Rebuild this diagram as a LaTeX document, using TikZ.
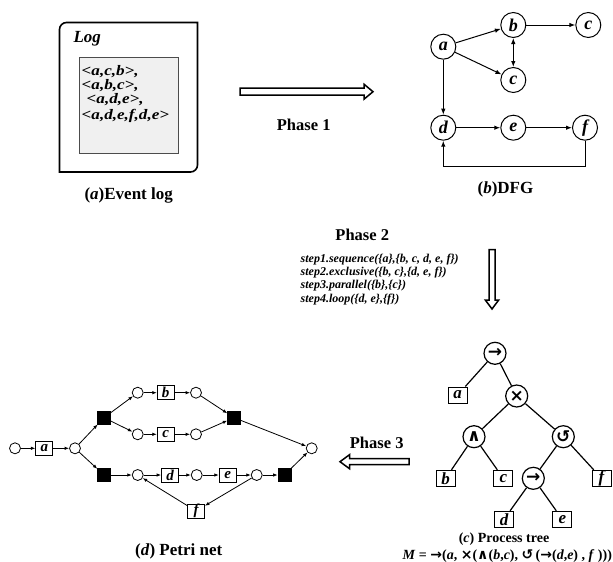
\documentclass[tikz,border=0pt]{standalone}
\usepackage{fontspec}
\usepackage{graphicx}
\setmainfont{Liberation Serif}
\newfontfamily\symb{DejaVu Sans}
\usetikzlibrary{arrows.meta}
\begin{document}
\begin{tikzpicture}[x=1pt,y=-1pt,
  bi/.style={font=\fontsize{#1}{#1}\selectfont\bfseries\itshape},
  bu/.style={font=\fontsize{#1}{#1}\selectfont\bfseries},
  dfgnode/.style={circle,draw,line width=1pt,minimum size=25pt,inner sep=0pt,bi=18},
  arr/.style={-{Latex[length=6pt,width=4.5pt]},line width=1pt},
  treeop/.style={circle,draw,line width=1.2pt,minimum size=22pt,inner sep=0pt,font=\fontsize{17}{17}\selectfont\symb\bfseries},
  leaf/.style={draw,line width=1pt,minimum width=19pt,minimum height=16pt,inner sep=0pt,bi=17},
  tedge/.style={line width=1.2pt},
  place/.style={circle,draw,line width=0.8pt,minimum size=11pt,inner sep=0pt},
  trans/.style={draw,line width=0.8pt,minimum width=17pt,minimum height=14pt,inner sep=0pt,bi=15},
  blackt/.style={fill=black,draw=black,minimum size=13pt,inner sep=0pt},
  parr/.style={-{Latex[length=4.5pt,width=3.5pt]},line width=0.8pt},
  bigarrow/.style={draw,fill=white,line width=1.5pt,line join=miter},
  logline/.style={bi=14.5,anchor=west,inner sep=0pt}
]
\useasboundingbox (0,0) rectangle (613,562);

% ---------- (a) Event log ----------
\draw[line width=1.6pt] (66,22.5) -- (197.5,22.5) -- (197.5,165) arc[start angle=0,end angle=90,radius=7] -- (59.5,172) -- (59.5,29.5) arc[start angle=180,end angle=270,radius=7] -- cycle;
\node[bi=17,anchor=west] (logt) at (70,38.5) {Log};
\node[draw=black!70,fill=black!6,line width=0.6pt,minimum width=99pt,minimum height=96pt,inner sep=0pt] (logbox) at (128.8,105.3) {};
\node[logline] (l1) at (81.5,71.5) {\scalebox{1.18}[1]{<a,c,b>,}};
\node[logline] (l2) at (81.5,85.5) {\scalebox{1.18}[1]{<a,b,c>,}};
\node[logline] (l3) at (86.5,99.7) {\scalebox{1.18}[1]{<a,d,e>,}};
\node[logline] (l4) at (81.5,116) {\scalebox{1.18}[1]{<a,d,e,f,d,e>}};
\node[bu=17] (capa) at (128.7,195.7) {(\textit{a})Event log};

% ---------- Phase 1 ----------
\draw[bigarrow] (240,88.2) -- (364,88.2) -- (364,84.2) -- (373,91.7) -- (364,99.2) -- (364,95.2) -- (240,95.2) -- cycle;
\node[bu=16.5] (ph1) at (303.7,125) {Phase 1};

% ---------- (b) DFG ----------
\node[dfgnode] (a) at (443.3,46.7) {a};
\node[dfgnode] (b) at (513.3,25) {b};
\node[dfgnode] (c1) at (588.3,25) {c};
\node[dfgnode] (c2) at (513.3,80) {c};
\node[dfgnode] (d) at (443.3,127.7) {d};
\node[dfgnode] (e) at (513.3,127.7) {e};
\node[dfgnode] (f) at (585,127.7) {f};
\draw[arr] (a) -- (b);
\draw[arr] (a) -- (c2);
\draw[arr] (b) -- (c1);
\draw[{Latex[length=6pt,width=4.5pt]}-{Latex[length=6pt,width=4.5pt]},line width=1pt] (b) -- (c2);
\draw[arr] (a) -- (d);
\draw[arr] (d) -- (e);
\draw[arr] (e) -- (f);
\coordinate (loopc) at (585,166);
\draw[arr] (f.south) -- (loopc) -| (d.south);
\node[bu=17] (capb) at (505.5,189) {(\textit{b})DFG};

% ---------- Phase 2 ----------
\node[bu=16.5] (ph2) at (362.3,235) {Phase 2};
\node[bi=12,anchor=west,inner sep=0pt] (s1) at (300.5,259.3) {step1.sequence(\{a\},\{b, c, d, e, f\})};
\node[bi=12,anchor=west,inner sep=0pt] (s2) at (300.5,272.6) {step2.exclusive(\{b, c\},\{d, e, f\})};
\node[bi=12,anchor=west,inner sep=0pt] (s3) at (300.5,285.9) {step3.parallel(\{b\},\{c\})};
\node[bi=12,anchor=west,inner sep=0pt] (s4) at (300.5,299.2) {step4.loop(\{d, e\},\{f\})};
\draw[bigarrow] (489,249.5) -- (495,249.5) -- (495,300) -- (498.7,300) -- (492,309) -- (485.3,300) -- (489,300) -- cycle;

% ---------- (c) Process tree ----------
\node[treeop] (r) at (495,353.3) {→};
\node[leaf] (ta) at (457.7,395) {a};
\node[treeop] (x) at (516.7,396) {×};
\node[treeop] (and) at (474,436.7) {∧};
\node[treeop] (lp) at (563.3,436.7) {↺};
\node[leaf] (tb) at (445.7,478.3) {b};
\node[leaf] (tc) at (503.3,478.3) {c};
\node[treeop] (sq) at (533.3,478.3) {→};
\node[leaf] (tf) at (601.5,478.3) {f};
\node[leaf] (td) at (504,519.3) {d};
\node[leaf] (te) at (562.3,519.3) {e};
\draw[tedge] (r) -- (ta);
\draw[tedge] (r) -- (x);
\draw[tedge] (x) -- (and);
\draw[tedge] (x) -- (lp);
\draw[tedge] (and) -- (tb);
\draw[tedge] (and) -- (tc);
\draw[tedge] (lp) -- (sq);
\draw[tedge] (lp) -- (tf);
\draw[tedge] (sq) -- (td);
\draw[tedge] (sq) -- (te);
\node[bu=14] (capc) at (504,539) {(\textit{c}) Process tree};
\node[bu=14] (formula) at (507.3,556) {\textit{M} = {\symb →}(\textit{a}, {\symb ×}({\symb ∧}(\textit{b},\textit{c}), {\symb ↺}\,({\symb →}(\textit{d},\textit{e}) , \textit{f} )))};

% ---------- Phase 3 ----------
\node[bu=16.5] (ph3) at (376.7,442.7) {Phase 3};
\draw[bigarrow] (409,458.7) -- (349.5,458.7) -- (349.5,454.7) -- (340,461.7) -- (349.5,468.7) -- (349.5,464.7) -- (409,464.7) -- cycle;

% ---------- (d) Petri net ----------
\node[place] (p0) at (15,448.3) {};
\node[trans] (pa) at (44.3,448.3) {a};
\node[place] (p1) at (75,448.3) {};
\node[blackt] (t1) at (104,417.7) {};
\node[blackt] (t2) at (104,475) {};
\node[place] (pbi) at (137.7,392.7) {};
\node[trans] (pb) at (165.7,392.7) {b};
\node[place] (pbo) at (196,392.7) {};
\node[place] (pci) at (137.7,434.3) {};
\node[trans] (pc) at (165.7,434.3) {c};
\node[place] (pco) at (196,434.3) {};
\node[blackt] (t3) at (234,417.7) {};
\node[place] (pend) at (311.7,448.3) {};
\node[place] (pdi) at (137.7,475) {};
\node[trans] (pd) at (170,475) {d};
\node[place] (pdo) at (196.7,475) {};
\node[trans] (pe) at (227.7,475) {e};
\node[place] (peo) at (256.7,475) {};
\node[blackt] (t4) at (284.3,475) {};
\node[trans] (pf) at (196,511) {f};
\draw[parr] (p0) -- (pa);
\draw[parr] (pa) -- (p1);
\draw[parr] (p1) -- (t1);
\draw[parr] (p1) -- (t2);
\draw[parr] (t1) -- (pbi);
\draw[parr] (t1) -- (pci);
\draw[parr] (pbi) -- (pb);
\draw[parr] (pb) -- (pbo);
\draw[parr] (pbo) -- (t3);
\draw[parr] (pci) -- (pc);
\draw[parr] (pc) -- (pco);
\draw[parr] (pco) -- (t3);
\draw[parr] (t3) -- (pend);
\draw[parr] (t2) -- (pdi);
\draw[parr] (pdi) -- (pd);
\draw[parr] (pd) -- (pdo);
\draw[parr] (pdo) -- (pe);
\draw[parr] (pe) -- (peo);
\draw[parr] (peo) -- (t4);
\draw[parr] (t4) -- (pend);
\draw[parr] (peo) -- (pf);
\draw[parr] (pf) -- (pdi);
\node[bu=17] (capd) at (178.7,551.7) {(\textit{d}) Petri net};
\end{tikzpicture}
\end{document}
